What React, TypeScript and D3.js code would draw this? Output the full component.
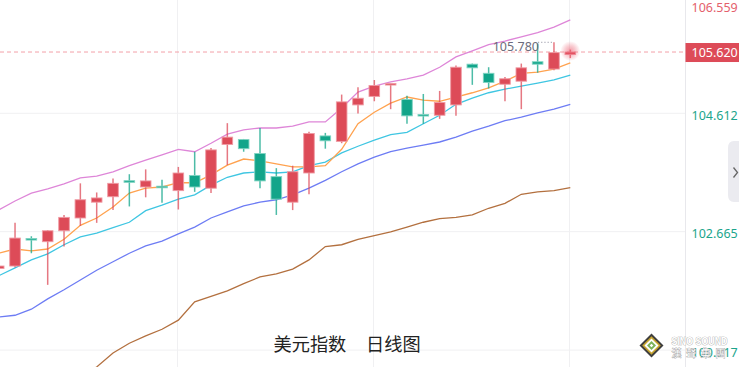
import React from 'react';
import * as d3 from 'd3';

const open = [102.06, 102.10, 102.54, 102.50, 102.68, 102.89, 103.15, 103.24, 103.49, 103.40, 103.40, 103.34, 103.59, 103.38, 104.10, 104.18, 103.95, 103.57, 103.15, 103.63, 104.24, 104.15, 104.75, 104.89, 105.07, 104.84, 104.58, 104.58, 104.75, 105.42, 105.27, 105.09, 105.14, 105.46, 105.34, 105.58];
const high = [102.12, 102.81, 102.59, 102.69, 102.94, 103.46, 103.31, 103.54, 103.61, 103.69, 103.52, 103.73, 103.98, 104.04, 104.45, 104.19, 104.37, 103.71, 103.75, 104.31, 104.29, 104.92, 105.04, 105.16, 105.10, 104.90, 104.93, 104.98, 105.40, 105.43, 105.37, 105.21, 105.43, 105.76, 105.78, 105.66];
const low = [102.04, 102.08, 102.31, 101.79, 102.42, 102.76, 102.81, 103.02, 103.08, 103.23, 103.14, 103.03, 103.32, 103.30, 103.76, 103.98, 103.38, 102.94, 103.02, 103.28, 104.03, 104.12, 104.61, 104.81, 104.68, 104.44, 104.44, 104.52, 104.57, 105.08, 105.02, 104.81, 104.68, 105.28, 105.32, 105.52];
const close = [102.10, 102.56, 102.52, 102.68, 102.90, 103.19, 103.22, 103.46, 103.47, 103.50, 103.38, 103.63, 103.40, 104.01, 104.22, 104.03, 103.50, 103.20, 103.65, 104.28, 104.16, 104.80, 104.86, 105.07, 105.09, 104.57, 104.56, 104.79, 105.37, 105.36, 105.12, 105.18, 105.36, 105.42, 105.61, 105.62];

const bandUpper = [103.02, 103.17, 103.30, 103.37, 103.45, 103.55, 103.58, 103.65, 103.75, 103.84, 103.93, 104.02, 103.98, 104.12, 104.27, 104.34, 104.37, 104.37, 104.40, 104.47, 104.47, 104.70, 104.96, 105.06, 105.13, 105.18, 105.24, 105.37, 105.54, 105.64, 105.74, 105.80, 105.87, 105.94, 106.03, 106.15];
const ma5 = [102.31, 102.38, 102.35, 102.38, 102.54, 102.77, 102.89, 103.07, 103.30, 103.38, 103.40, 103.47, 103.47, 103.60, 103.76, 103.86, 103.83, 103.78, 103.73, 103.73, 103.75, 104.02, 104.44, 104.63, 104.78, 104.88, 104.83, 104.81, 104.88, 104.95, 105.03, 105.14, 105.27, 105.29, 105.34, 105.44];
const ma10 = [101.94, 102.07, 102.20, 102.30, 102.45, 102.58, 102.64, 102.73, 102.82, 103.01, 103.10, 103.20, 103.27, 103.43, 103.56, 103.63, 103.65, 103.63, 103.65, 103.75, 103.81, 103.96, 104.07, 104.17, 104.26, 104.30, 104.44, 104.58, 104.76, 104.86, 104.95, 105.01, 105.06, 105.11, 105.16, 105.24];
const ma20 = [101.26, 101.29, 101.39, 101.56, 101.71, 101.87, 102.03, 102.17, 102.31, 102.43, 102.51, 102.63, 102.74, 102.89, 102.99, 103.09, 103.15, 103.19, 103.27, 103.38, 103.51, 103.65, 103.78, 103.89, 103.98, 104.04, 104.09, 104.14, 104.22, 104.32, 104.40, 104.49, 104.55, 104.62, 104.68, 104.76];
const ma60 = [null, null, null, null, null, 100.26, 100.44, 100.67, 100.83, 100.95, 101.06, 101.21, 101.51, 101.60, 101.69, 101.81, 101.92, 101.97, 102.05, 102.20, 102.42, 102.45, 102.54, 102.60, 102.66, 102.74, 102.82, 102.88, 102.90, 102.94, 103.05, 103.13, 103.28, 103.32, 103.34, 103.39];

const yTicks = [106.559, 104.612, 102.665, 100.717];
const lastPrice = 105.62;
const maxHigh = 105.78;
const titleParts = ['美元指数', '日线图'];
const logoText = ['SINO SOUND', '漢 聲 集 團'];

const W = 739;
const H = 367;
const PLOT_R = 685;
const RED = '#dd4b58';
const GREEN = '#12a58a';

export default function App() {
  const n = open.length;
  const x = d3.scaleLinear().domain([0, n - 1]).range([-1.3, 570.3]);
  const y = d3.scaleLinear().domain([100.717, 104.612]).range([350.1, 113.3]);

  const mkLine = (arr: (number | null)[]) =>
    d3
      .line<number | null>()
      .defined((d) => d !== null)
      .x((_, i) => x(i))
      .y((d) => y(d as number))
      .curve(d3.curveLinear)(arr) || '';

  const lines = [
    { data: ma60, color: '#b3703f' },
    { data: ma20, color: '#6d7cf4' },
    { data: ma10, color: '#3fc6e2' },
    { data: ma5, color: '#ffa24f' },
    { data: bandUpper, color: '#de86d8' },
  ];

  const maxIdx = high.indexOf(maxHigh);
  const gridX = [11, 23, 35];
  const fmt = d3.format('.3f');

  return (
    <svg width={W} height={H} style={{ position: 'absolute', left: 0, top: 0, background: '#fff' }}
      fontFamily="'Noto Sans', 'Open Sans', sans-serif">
      <defs>
        <clipPath id="plot">
          <rect x={0} y={0} width={PLOT_R} height={H} />
        </clipPath>
        <radialGradient id="glow">
          <stop offset="0%" stopColor="#ec5c6e" stopOpacity={0.6} />
          <stop offset="55%" stopColor="#ec5c6e" stopOpacity={0.3} />
          <stop offset="100%" stopColor="#ec5c6e" stopOpacity={0} />
        </radialGradient>
      </defs>
      <rect width={W} height={H} fill="#fff" />
      {yTicks.map((t) => (
        <line key={'g' + t} x1={0} x2={PLOT_R} y1={y(t)} y2={y(t)} stroke="#f0f0f2" strokeWidth={1} />
      ))}
      {gridX.map((i) => (
        <line key={'v' + i} x1={x(i) - 0.8} x2={x(i) - 0.8} y1={0} y2={H} stroke="#f0f0f2" strokeWidth={1} />
      ))}
      <line x1={PLOT_R + 0.5} x2={PLOT_R + 0.5} y1={0} y2={H} stroke="#e8e8ec" strokeWidth={1} />

      <g clipPath="url(#plot)">
        <line x1={0} x2={PLOT_R} y1={y(lastPrice)} y2={y(lastPrice)} stroke="#f3a0a8" strokeDasharray="4,3" strokeWidth={1} />
        {lines.map((l, k) => (
          <path key={k} d={mkLine(l.data)} fill="none" stroke={l.color} strokeWidth={1.3} />
        ))}
        {open.map((o, i) => {
          const c = close[i];
          const up = c >= o;
          const col = up ? RED : GREEN;
          const light = up ? '#ef9aa3' : '#7fd3c2';
          const cx = x(i);
          const top = y(Math.max(o, c));
          const bot = y(Math.min(o, c));
          const h = Math.max(1.6, bot - top);
          return (
            <g key={'c' + i}>
              <line x1={cx} x2={cx} y1={y(high[i])} y2={y(low[i])} stroke={col} strokeOpacity={0.75} strokeWidth={1.5} />
              <rect x={cx - 5.3} y={top - (h === 1.6 ? 0.8 : 0)} width={10.6} height={h} fill={col} stroke={light} strokeWidth={0.9} />
            </g>
          );
        })}
        <circle cx={x(n - 1)} cy={y(lastPrice) - 1} r={10} fill="url(#glow)" />
        <line x1={x(maxIdx) - 16} x2={x(maxIdx) - 2} y1={y(maxHigh)} y2={y(maxHigh)} stroke="#9a9aa8" strokeDasharray="1.2,2" strokeWidth={1} />
        <text x={x(maxIdx) - 15} y={y(maxHigh) + 8.6} textAnchor="end" fontSize={12.5} fill="#6c6c7c">{fmt(maxHigh)}</text>
      </g>

      {yTicks.map((t, i) => (
        <text key={'t' + t} x={691.5} y={Math.max(11.5, y(t) + 6.8)} fontSize={12.5}
          fill={i === 0 ? '#e4606c' : '#1ba58c'}>{fmt(t)}</text>
      ))}
      <rect x={PLOT_R + 0.5} y={y(lastPrice) - 9} width={W - PLOT_R} height={19} fill={RED} />
      <text x={691.5} y={y(lastPrice) + 4.6} fontSize={12.5} fill="#fff">{fmt(lastPrice)}</text>

      <path d="M739,141 L734,141 Q728,141 728,148 L728,195 Q728,202 734,202 L739,202 Z" fill="#ebebf0" />
      <polyline points="733.5,167.5 737.5,172.5 733.5,177.5" fill="none" stroke="#666" strokeWidth={1.3} />

      <text y={350.5} fontSize={18.2} fill="#222" fontFamily="'Noto Sans CJK SC', sans-serif">
        <tspan x={273.5}>{titleParts[0]}</tspan>
        <tspan x={366}>{titleParts[1]}</tspan>
      </text>

      <g transform="translate(651.5,345.5) rotate(45)">
        <rect x={-8.5} y={-8.5} width={17} height={17} fill="#3e3e3e" />
        <rect x={-6.6} y={-6.6} width={13.2} height={13.2} fill="#c8a630" />
        <rect x={-5} y={-5} width={10} height={10} fill="#fff" />
        <rect x={-3.2} y={-3.2} width={6.4} height={6.4} fill="#7bb35a" />
        <rect x={-1.3} y={-1.3} width={2.6} height={2.6} fill="#fff" />
      </g>
      <text x={671.5} y={345} fontSize={10} fontWeight="bold" fill="#fff" stroke="#9a9a9a" strokeWidth={0.7}
        paintOrder="stroke" fontFamily="'Liberation Sans', sans-serif" textLength={56} lengthAdjust="spacingAndGlyphs">{logoText[0]}</text>
      <text x={671.5} y={357} fontSize={10} fill="#fff" stroke="#9a9a9a" strokeWidth={0.7} paintOrder="stroke"
        fontFamily="'Noto Sans CJK TC', sans-serif" textLength={54} lengthAdjust="spacing">{logoText[1]}</text>
    </svg>
  );
}
